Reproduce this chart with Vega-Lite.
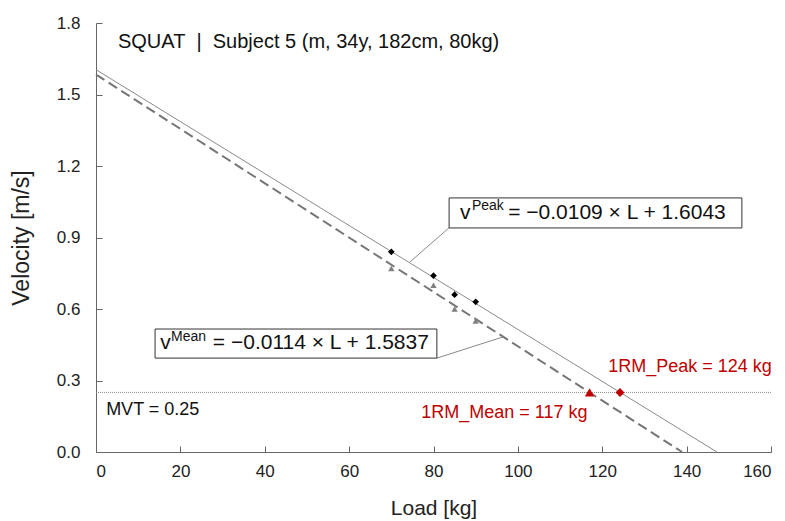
{
  "$schema": "https://vega.github.io/schema/vega-lite/v6.json",
  "width": 675,
  "height": 429,
  "autosize": {"type": "none"},
  "padding": {"left": 96, "top": 23, "right": 14, "bottom": 69},
  "background": "white",
  "config": {
    "view": {"stroke": null},
    "font": "Liberation Sans",
    "axis": {
      "grid": false,
      "domainColor": "#666666",
      "tickColor": "#666666",
      "labelColor": "#222222",
      "titleColor": "#222222",
      "labelFont": "Liberation Sans",
      "titleFont": "Liberation Sans",
      "labelFontSize": 17,
      "titleFontSize": 21,
      "titleFontWeight": "normal",
      "tickSize": -6
    }
  },
  "datasets": {
    "peak": [
      {"load": 70, "v": 0.84},
      {"load": 80, "v": 0.74},
      {"load": 85, "v": 0.66},
      {"load": 90, "v": 0.63}
    ],
    "mean": [
      {"load": 70, "v": 0.77},
      {"load": 80, "v": 0.70},
      {"load": 85, "v": 0.60},
      {"load": 90, "v": 0.55}
    ],
    "fit": [
      {"series": "Peak", "load": 0, "v": 1.6043},
      {"series": "Peak", "load": 147.18, "v": 0},
      {"series": "Mean", "load": 0, "v": 1.5837},
      {"series": "Mean", "load": 138.92, "v": 0}
    ],
    "orm": [
      {"series": "Mean", "load": 117.0, "v": 0.25},
      {"series": "Peak", "load": 124.2, "v": 0.25}
    ],
    "mvt": [{"v": 0.25}],
    "leaders": [
      {"id": "Peak", "x": 83.9, "y": 0.944, "x2": 74.4, "y2": 0.797},
      {"id": "Mean", "x": 80.8, "y": 0.394, "x2": 96.5, "y2": 0.483}
    ],
    "boxes": [
      {"id": "Peak", "x": 83.7, "x2": 153.1, "y": 1.066, "y2": 0.940},
      {"id": "Mean", "x": 14.0, "x2": 80.8, "y": 0.516, "y2": 0.394}
    ],
    "eqmain": [
      {"x": 86.3, "y": 1.003, "text": "v"},
      {"x": 97.7, "y": 1.003, "text": "= −0.0109 × L + 1.6043"},
      {"x": 15.2, "y": 0.457, "text": "v"},
      {"x": 27.7, "y": 0.457, "text": "= −0.0114 × L + 1.5837"}
    ],
    "eqsup": [
      {"x": 89.1, "y": 1.032, "text": "Peak"},
      {"x": 17.8, "y": 0.4825, "text": "Mean"}
    ],
    "title": [{"x": 5.2, "y": 1.72, "text": "SQUAT\u00a0\u00a0|\u00a0\u00a0Subject 5 (m, 34y, 182cm, 80kg)"}],
    "mvtlabel": [{"x": 2.4, "y": 0.176, "text": "MVT = 0.25"}],
    "ormlabels": [
      {"x": 140.8, "y": 0.357, "text": "1RM_Peak = 124 kg"},
      {"x": 96.8, "y": 0.164, "text": "1RM_Mean = 117 kg"}
    ]
  },
  "layer": [
    {
      "data": {"name": "mvt"},
      "mark": {"type": "rule", "color": "#888888", "strokeWidth": 1, "strokeDash": [1, 1]},
      "encoding": {
        "y": {"field": "v", "type": "quantitative", "scale": {"domain": [0, 1.8], "nice": false},
          "axis": {"title": "Velocity [m/s]", "values": [0, 0.3, 0.6, 0.9, 1.2, 1.5, 1.8], "format": ".1f", "labelPadding": 22, "titlePadding": 23, "titleFontSize": 23}}
      }
    },
    {
      "data": {"name": "fit"},
      "transform": [{"filter": "datum.series === 'Peak'"}],
      "mark": {"type": "line", "color": "#8a8a8a", "strokeWidth": 1},
      "encoding": {
        "x": {"field": "load", "type": "quantitative", "scale": {"domain": [0, 160], "nice": false},
          "axis": {"title": "Load [kg]", "values": [0, 20, 40, 60, 80, 100, 120, 140, 160], "labelPadding": 17, "titlePadding": 18}},
        "y": {"field": "v", "type": "quantitative"}
      }
    },
    {
      "data": {"name": "fit"},
      "transform": [{"filter": "datum.series === 'Mean'"}],
      "mark": {"type": "line", "color": "#767676", "strokeWidth": 2, "strokeDash": [10, 5]},
      "encoding": {
        "x": {"field": "load", "type": "quantitative"},
        "y": {"field": "v", "type": "quantitative"}
      }
    },
    {
      "data": {"name": "leaders"},
      "mark": {"type": "rule", "color": "#8a8a8a", "strokeWidth": 1},
      "encoding": {
        "x": {"field": "x", "type": "quantitative"},
        "y": {"field": "y", "type": "quantitative"},
        "x2": {"field": "x2"},
        "y2": {"field": "y2"}
      }
    },
    {
      "data": {"name": "boxes"},
      "mark": {"type": "rect", "fill": "white", "stroke": "#333333", "strokeWidth": 1},
      "encoding": {
        "x": {"field": "x", "type": "quantitative"},
        "x2": {"field": "x2"},
        "y": {"field": "y", "type": "quantitative"},
        "y2": {"field": "y2"}
      }
    },
    {
      "data": {"name": "mean"},
      "mark": {"type": "point", "shape": "triangle-up", "filled": true, "color": "#808080", "size": 40, "opacity": 1},
      "encoding": {
        "x": {"field": "load", "type": "quantitative"},
        "y": {"field": "v", "type": "quantitative"}
      }
    },
    {
      "data": {"name": "peak"},
      "mark": {"type": "point", "shape": "diamond", "filled": true, "color": "#000000", "size": 45, "opacity": 1},
      "encoding": {
        "x": {"field": "load", "type": "quantitative"},
        "y": {"field": "v", "type": "quantitative"}
      }
    },
    {
      "data": {"name": "orm"},
      "transform": [{"filter": "datum.series === 'Mean'"}],
      "mark": {"type": "point", "shape": "triangle-up", "filled": true, "color": "#c00000", "size": 90, "opacity": 1},
      "encoding": {
        "x": {"field": "load", "type": "quantitative"},
        "y": {"field": "v", "type": "quantitative"}
      }
    },
    {
      "data": {"name": "orm"},
      "transform": [{"filter": "datum.series === 'Peak'"}],
      "mark": {"type": "point", "shape": "diamond", "filled": true, "color": "#c00000", "size": 80, "opacity": 1},
      "encoding": {
        "x": {"field": "load", "type": "quantitative"},
        "y": {"field": "v", "type": "quantitative"}
      }
    },
    {
      "data": {"name": "eqmain"},
      "mark": {"type": "text", "align": "left", "baseline": "middle", "fontSize": 21, "color": "#111111", "font": "Liberation Sans"},
      "encoding": {
        "x": {"field": "x", "type": "quantitative"},
        "y": {"field": "y", "type": "quantitative"},
        "text": {"field": "text"}
      }
    },
    {
      "data": {"name": "eqsup"},
      "mark": {"type": "text", "align": "left", "baseline": "middle", "fontSize": 14, "color": "#111111", "font": "Liberation Sans"},
      "encoding": {
        "x": {"field": "x", "type": "quantitative"},
        "y": {"field": "y", "type": "quantitative"},
        "text": {"field": "text"}
      }
    },
    {
      "data": {"name": "title"},
      "mark": {"type": "text", "align": "left", "baseline": "middle", "fontSize": 20, "color": "#111111", "font": "Liberation Sans"},
      "encoding": {
        "x": {"field": "x", "type": "quantitative"},
        "y": {"field": "y", "type": "quantitative"},
        "text": {"field": "text"}
      }
    },
    {
      "data": {"name": "mvtlabel"},
      "mark": {"type": "text", "align": "left", "baseline": "middle", "fontSize": 18, "color": "#111111", "font": "Liberation Sans"},
      "encoding": {
        "x": {"field": "x", "type": "quantitative"},
        "y": {"field": "y", "type": "quantitative"},
        "text": {"field": "text"}
      }
    },
    {
      "data": {"name": "ormlabels"},
      "mark": {"type": "text", "align": "center", "baseline": "middle", "fontSize": 18, "color": "#c00000", "font": "Liberation Sans"},
      "encoding": {
        "x": {"field": "x", "type": "quantitative"},
        "y": {"field": "y", "type": "quantitative"},
        "text": {"field": "text"}
      }
    }
  ]
}
